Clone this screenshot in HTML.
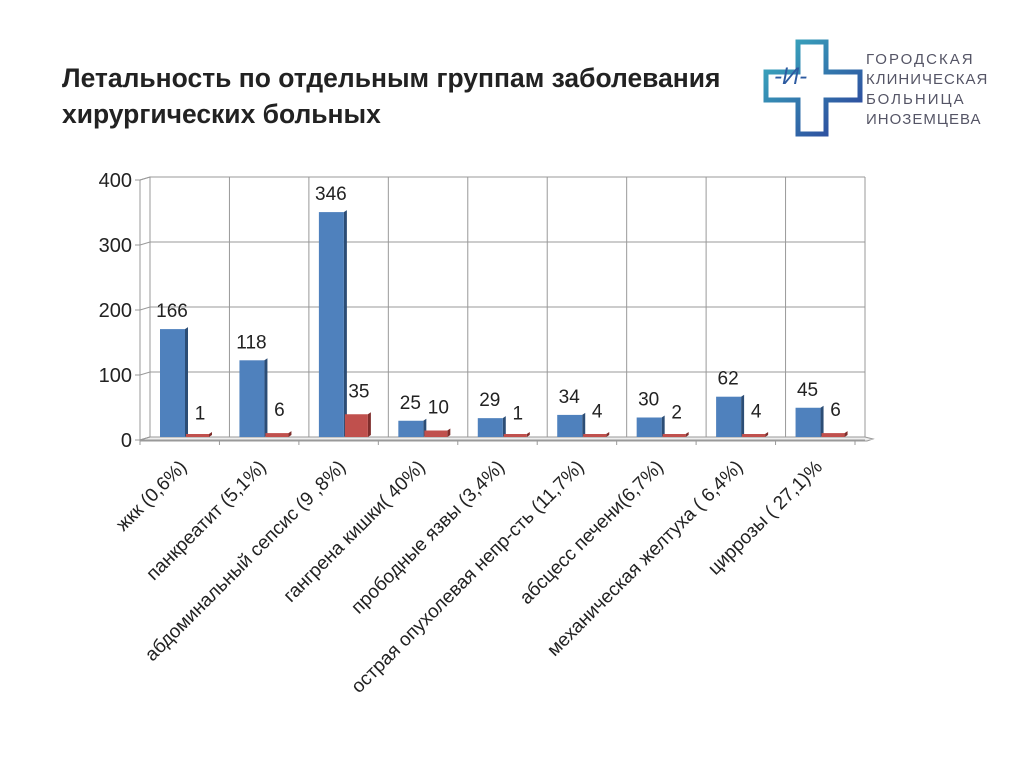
<!DOCTYPE html>
<html><head><meta charset="utf-8"><style>
body{margin:0;width:1024px;height:767px;background:#fff;overflow:hidden;font-family:"Liberation Sans","DejaVu Sans",sans-serif}
.t{position:absolute;left:62px;font-weight:bold;font-size:27px;color:#222;transform:scaleX(0.98);transform-origin:left}
</style></head><body>
<div class="t" style="top:63px">Летальность по отдельным группам заболевания</div>
<div class="t" style="top:99px">хирургических больных</div>
<svg width="1024" height="767" style="position:absolute;left:0;top:0" id="c">
<defs><linearGradient id="lg" x1="0" x2="1" y1="0" y2="1"><stop offset="0" stop-color="#3ab0c0"/><stop offset="1" stop-color="#2c3f9a"/></linearGradient></defs>
<g>
<path d="M798 42 h28 v30 h34 v28 h-34 v34 h-28 v-34 h-32 v-28 h32 z" fill="none" stroke="url(#lg)" stroke-width="5"/>
<text x="774" y="84" font-size="24" font-style="italic" fill="#2c5aa0">-И-</text>
<text x="866" y="64" font-size="15" fill="#556" letter-spacing="2">ГОРОДСКАЯ</text>
<text x="866" y="84" font-size="15" fill="#556" letter-spacing="1">КЛИНИЧЕСКАЯ</text>
<text x="866" y="104" font-size="15" fill="#556" letter-spacing="2">БОЛЬНИЦА</text>
<text x="866" y="124" font-size="15" fill="#556" letter-spacing="1">ИНОЗЕМЦЕВА</text>
</g>
</svg>
<script>
const categories=["жкк (0,6%)","панкреатит (5,1%)","абдоминальный сепсис (9 ,8%)","гангрена кишки( 40%)","прободные язвы (3,4%)","острая опухолевая непр-сть (11,7%)","абсцесс печени(6,7%)","механическая желтуха ( 6,4%)","циррозы  ( 27,1)%"];
const totalCases=[166,118,346,25,29,34,30,62,45];
const deaths=[1,6,35,10,1,4,2,4,6];
const yTicks=[0,100,200,300,400];
const svg=document.getElementById('c');
const NS='http://www.w3.org/2000/svg';
const X0=150,X1=865,Y0=437,Y1=177,D=10;
const cw=(X1-X0)/categories.length;
const y=v=>Y0-(v/400)*(Y0-Y1);
const x=i=>X0+i*cw;
function mk(t,a,p){const e=document.createElementNS(NS,t);for(const k in a)e.setAttribute(k,a[k]);(p||svg).appendChild(e);return e;}
let e;
e=mk('polygon',{points:`${X0-D},${Y1+3} ${X0},${Y1} ${X0},${Y0} ${X0-D},${Y0+3}`,fill:'none',stroke:'#999'});


e=mk('polygon',{points:`${X0-D},${Y0+3} ${X0},${Y0} ${X1},${Y0} ${X1+8},${Y0+2} ${X1+2},${Y0+4} ${X0-D},${Y0+4}`,fill:'#eee',stroke:'#999'});


yTicks.forEach(v=>{
 e=mk('polyline',{points:`${X0-D},${y(v)+3} ${X0},${y(v)} ${X1},${y(v)}`,fill:'none',stroke:'#999'});
 
 
 mk('line',{x1:X0-D-5,x2:X0-D,y1:y(v)+3,y2:y(v)+3,stroke:'#999'});
 e=mk('text',{x:X0-D-8,y:y(v)+10,'text-anchor':'end','font-size':20,fill:'#222'});e.textContent=v;
 
 
});
for(let i=0;i<=categories.length;i++){
 e=mk('line',{x1:x(i),x2:x(i),y1:Y1,y2:Y0,stroke:'#999'});
 
 
 mk('line',{x1:x(i)-D,x2:x(i)-D,y1:Y0+3,y2:Y0+8,stroke:'#999'});
}
mk('line',{x1:X0-D,x2:X1,y1:Y0+3,y2:Y0+3,stroke:'#999'});
function bar(xl,w,v,fill,side,name){
 const t=Math.min(y(v),Y0-3);
 const g=mk('g',{});
 
 
 mk('polygon',{points:`${xl+w},${t} ${xl+w+3},${t-2} ${xl+w+3},${Y0-2} ${xl+w},${Y0}`,fill:side},g);
 mk('rect',{x:xl,y:t,width:w,height:Y0-t,fill:fill},g);
}
categories.forEach((c,i)=>{
 const bx=x(i)+10;
 bar(bx,25,totalCases[i],'#4f81bd','#2c4d75','bar-total-'+i);
 bar(bx+26,23,deaths[i],'#c0504d','#7f2e2c','bar-deaths-'+i);
 e=mk('text',{x:bx+12,y:y(totalCases[i])-12,'text-anchor':'middle','font-size':19,fill:'#222'});e.textContent=totalCases[i];
 
 
 e=mk('text',{x:bx+40,y:Math.min(y(deaths[i])-17,420),'text-anchor':'middle','font-size':19,fill:'#222'});e.textContent=deaths[i];
 
 
 const ax=x(i)+cw/2-2,ay=468;
 e=mk('text',{x:ax,y:ay,'text-anchor':'end','font-size':19,fill:'#222',transform:`rotate(-45 ${ax} ${ay})`});e.textContent=c;
 
 
});
</script>
</body></html>
